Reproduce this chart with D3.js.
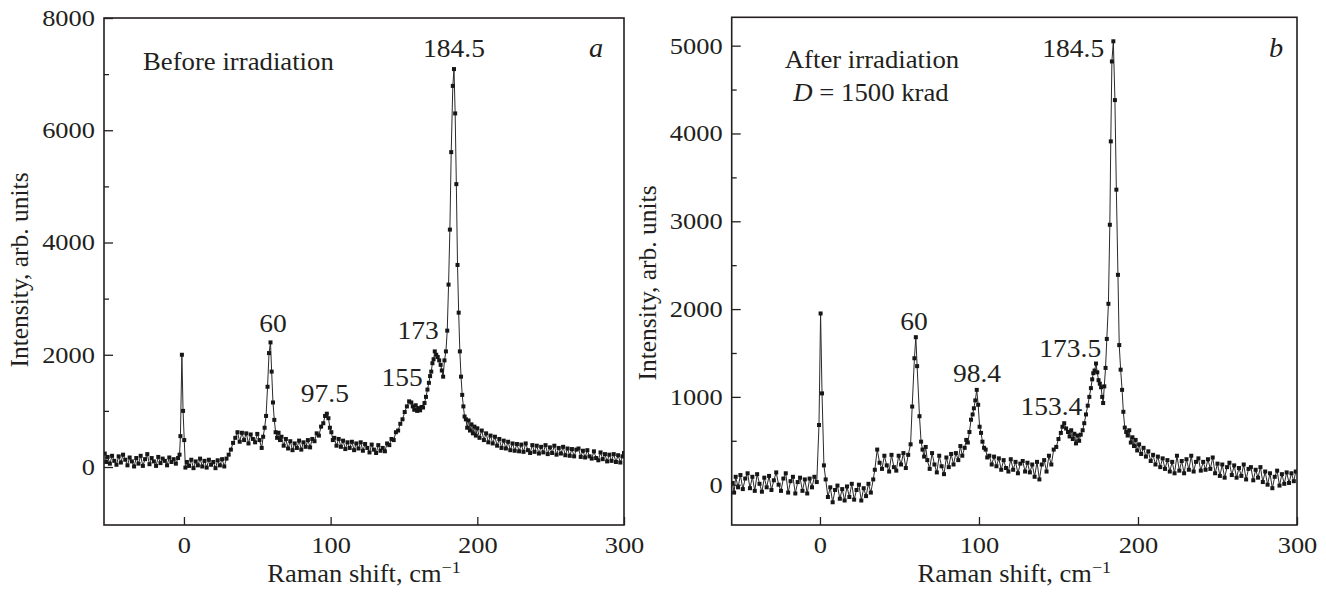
<!DOCTYPE html>
<html><head><meta charset="utf-8">
<script src="https://cdn.jsdelivr.net/npm/d3@7"></script>
<style>
html,body{margin:0;padding:0;background:#fff;}
svg{display:block;}
text{font-family:"Liberation Serif","Times New Roman",serif;fill:#231f20;}
</style></head><body>
<svg id="chart" width="1326" height="597"></svg>
<script>
// ---------- DATA ----------
// Panel a: before irradiation  [Raman shift cm^-1, intensity]
const spectrumBefore = [
[-54,240],[-53,90],[-52,180],[-50.5,60],[-49,200],[-47.5,110],[-46,40],[-44.5,190],[-43,80],[-41.5,220],
[-40,130],[-38.5,30],[-37,170],[-35.5,100],[-34,10],[-32.5,160],[-31,60],[-29.5,200],[-28,20],[-26.5,140],
[-25,230],[-23.5,50],[-22,160],[-20.5,100],[-19,20],[-17.5,180],[-16,70],[-14.5,150],[-13,110],[-11.5,30],
[-10,170],[-8.5,90],[-7,140],[-5.5,60],[-4,160],[-3,220],[-2.4,550],[-1.4,2000],[-0.6,1000],[0.2,480],
[1,-10],[2,90],[3.5,20],[5,130],[6.5,-20],[8,100],[9.5,30],[11,150],[12.5,10],[14,110],
[15.5,-10],[17,130],[18.5,40],[20,90],[21.5,-20],[23,120],[24.5,30],[26,140],[27.5,10],[29,150],
[30.5,220],[32,310],[33.5,430],[35,520],[36.5,620],[38,450],[39.5,610],[41,480],[42.5,600],[44,420],
[45.5,580],[47,500],[48.5,440],[50,590],[51.5,480],[53,340],[54,540],[55,700],[56,910],[57,1430],
[58,2030],[59,2220],[59.8,1700],[60.7,1150],[61.6,840],[62.5,620],[63.5,520],[64.5,610],[65.5,480],[66.5,540],
[68,380],[69.5,500],[71,330],[72.5,460],[74,300],[75.5,420],[77,340],[78.5,470],[80,310],[81.5,440],
[83,360],[84.5,480],[86,350],[87.5,500],[89,460],[90.5,600],[92,560],[93.5,720],[95,780],[96.2,910],
[97.4,950],[98.5,870],[99.5,700],[100.5,620],[101.5,480],[102.5,520],[104,380],[105.5,500],[107,360],[108.5,470],
[110,320],[111.5,440],[113,340],[114.5,450],[116,300],[117.5,420],[119,330],[120.5,440],[122,290],[123.5,410],
[125,340],[126.5,260],[128,400],[129.5,310],[131,250],[132.5,390],[134,290],[135.5,340],[137,280],[138.5,420],
[140,390],[141.5,500],[143,480],[144.5,620],[146,650],[147.5,770],[149,850],[150.5,980],[152,1080],[153.5,1170],
[155,1150],[156,1080],[157,1020],[158,1100],[159,1000],[160,1050],[161,1010],[162,1070],[163,1060],[164,1140],
[165,1250],[166,1380],[167,1500],[167.8,1620],[168.6,1700],[169.4,1850],[170.2,1920],[171,2060],[172,2000],[173,1960],
[174,1900],[175,1820],[175.8,1720],[176.7,1610],[177.6,1900],[178.6,2060],[179.5,2430],[180.4,3250],[181.3,4230],[182.2,5610],
[183.3,6790],[184.1,7090],[184.9,6300],[185.7,5040],[186.5,3600],[187.3,2750],[188.1,2060],[188.9,1610],[189.7,1285],[190.5,1080],
[191.3,900],[192.2,850],[193.1,700],[194,830],[195,650],[196,760],[197,600],[198,720],[199,560],[200,690],
[201.5,520],[203,650],[204.5,480],[206,600],[207.5,440],[209,560],[210.5,420],[212,540],[213.5,380],[215,500],
[216.5,340],[218,470],[219.5,330],[221,450],[222.5,300],[224,420],[225.5,290],[227,410],[228.5,280],[230,400],
[231.5,270],[233,420],[234.5,300],[236,250],[237.5,390],[239,270],[240.5,380],[242,240],[243.5,360],[245,260],
[246.5,390],[248,230],[249.5,350],[251,250],[252.5,380],[254,220],[255.5,340],[257,240],[258.5,360],[260,210],
[261.5,330],[263,200],[264.5,320],[266,190],[267.5,310],[269,330],[270.5,180],[272,290],[273.5,170],[275,300],
[276.5,190],[278,150],[279.5,280],[281,160],[282.5,120],[284,260],[285.5,140],[287,230],[288.5,100],[290,220],
[291.5,110],[293,230],[294.5,90],[296,210],[297.5,80],[299,190],[300,250]
];
// Panel b: after irradiation, D = 1500 krad
const spectrumAfter = [
[-55,20],[-54,-90],[-53,90],[-51.5,-30],[-50,110],[-48.5,-50],[-47,70],[-45.5,130],[-44,-40],[-42.5,90],
[-41,-70],[-39.5,120],[-38,10],[-36.5,-80],[-35,80],[-33.5,-30],[-32,100],[-30.5,-60],[-29,50],[-27.5,140],
[-26,0],[-24.5,-70],[-23,70],[-21.5,130],[-20,-90],[-18.5,40],[-17,90],[-15.5,-100],[-14,30],[-12.5,80],
[-11,-70],[-9.5,60],[-8,-100],[-6.5,70],[-5,-30],[-3.5,90],[-2,30],[-0.6,680],[0.4,1950],[1.3,1040],
[2.5,220],[3.6,60],[5,-140],[6.5,-30],[8,-200],[9.5,-60],[11,-10],[12.5,-160],[14,-50],[15.5,-180],
[17,-20],[18.5,-140],[20,10],[21.5,-170],[23,-60],[24.5,0],[26,-180],[27.5,-40],[29,-130],[30.5,10],
[32,-90],[33.5,60],[34.5,170],[36,400],[37.5,250],[39,180],[40.5,330],[42,220],[43.5,150],[45,340],
[46.5,200],[48,160],[49.5,330],[51,230],[52.5,360],[54,190],[55.5,340],[57,460],[58,890],[59.4,1440],
[60.3,1680],[61.1,1350],[62.6,780],[63.6,490],[64.5,400],[65.5,320],[66.5,430],[67.5,280],[69,180],[70.5,360],
[72,230],[73.5,140],[75,330],[76.5,210],[78,120],[79.5,310],[81,200],[82.5,350],[84,230],[85.5,360],
[87,280],[88.3,440],[89.5,330],[91,420],[92,510],[93,480],[94,600],[95,740],[96,800],[96.8,870],
[97.7,960],[98.6,1080],[99.5,910],[100.4,660],[101.3,590],[102.2,490],[103.2,420],[104.2,400],[105.2,310],[106.5,330],
[108,230],[109.5,320],[111,210],[112.5,300],[114,170],[115.5,280],[117,190],[118.5,150],[120,290],[121.5,170],
[123,260],[124.5,130],[126,240],[127.5,270],[129,150],[130.5,250],[132,140],[133.5,230],[135,90],[136.5,260],
[138,60],[139.5,230],[141,280],[142.5,150],[144,330],[145.5,230],[147,400],[148.6,430],[150,520],[151.5,590],
[152.5,660],[153.6,700],[154.8,640],[156,600],[157,550],[158,620],[159,520],[160,580],[161,470],[162,560],
[163,500],[164,570],[165.2,620],[166.2,700],[167.3,800],[168.4,900],[169.4,1000],[170.4,1100],[171.2,1200],[171.9,1270],
[172.7,1300],[173.6,1380],[174.4,1280],[175.2,1190],[176,1150],[176.8,1110],[177.5,1000],[178.1,930],[178.8,1120],[179.6,1330],
[180.4,1660],[181.4,2060],[182.3,2960],[182.9,3910],[183.6,4820],[184.5,5050],[185.5,4380],[186.4,3360],[187.4,2390],[188.2,1590],
[189.1,1310],[190,1080],[190.8,830],[191.7,650],[192.6,600],[193.5,560],[194.5,620],[195.5,480],[196.5,540],[197.5,440],
[198.5,510],[199.5,390],[200.7,460],[202,350],[203.5,420],[205,320],[206.5,380],[208,270],[209.5,340],[211,230],
[212.5,320],[214,200],[215.5,300],[217,180],[218.5,280],[220,150],[221.5,260],[223,130],[224.5,330],[226,160],
[227.5,270],[229,130],[230.5,290],[232,170],[233.5,330],[235,150],[236.5,260],[238,300],[239.5,160],[241,260],
[242.5,170],[244,290],[245.5,180],[247,310],[248.5,130],[250,240],[251.5,100],[253,230],[254.5,80],[256,200],
[257.5,250],[259,110],[260.5,220],[262,80],[263.5,190],[265,100],[266.5,230],[268,60],[269.5,180],[271,200],
[272.5,50],[274,170],[275.5,80],[277,200],[278.5,30],[280,150],[281.5,0],[283,130],[284.5,-40],[286,90],
[287.5,160],[289,-10],[290.5,120],[292,10],[293.5,140],[295,20],[296.5,130],[298,40],[299.2,150]
];
const xTicks = [0, 100, 200, 300];
const yTicksBefore = [0, 2000, 4000, 6000, 8000];
const yMinorBefore = [1000, 3000, 5000, 7000];
const yTicksAfter = [0, 1000, 2000, 3000, 4000, 5000];
const yMinorAfter = [500, 1500, 2500, 3500, 4500];
const peakLabelsBefore = ["184.5", "60", "97.5", "155", "173"];
const peakLabelsAfter = ["184.5", "60", "98.4", "153.4", "173.5"];
const xTitle = "Raman shift, cm";
const xTitleSup = "\u22121";
const yTitle = "Intensity, arb. units";

// ---------- LAYOUT ----------
const svg = d3.select("#chart");
const INK = "#231f20";

function stext(g, x, y, str, size, sx, anchor, italic) {
  return g.append("text")
    .attr("transform", `translate(${x},${y}) scale(${sx},1)`)
    .attr("text-anchor", anchor || "middle")
    .style("font-size", size + "px")
    .style("font-style", italic ? "italic" : null)
    .text(str);
}

function drawPanel(cfg) {
  const g = svg.append("g");
  const x = d3.scaleLinear().domain(cfg.xDomain).range([cfg.left, cfg.right]);
  const y = d3.scaleLinear().domain(cfg.yDomain).range([cfg.bottom, cfg.top]);

  const clipId = "clip-" + cfg.id;
  svg.append("clipPath").attr("id", clipId).append("rect")
    .attr("x", cfg.left).attr("y", cfg.top)
    .attr("width", cfg.right - cfg.left).attr("height", cfg.bottom - cfg.top);

  const plot = g.append("g").attr("clip-path", `url(#${clipId})`);
  const line = d3.line().x(d => x(d[0])).y(d => y(d[1]));
  plot.append("path").datum(cfg.data)
    .attr("fill", "none").attr("stroke", "#2a2a2a").attr("stroke-width", 1)
    .attr("d", line);
  const ms = 4;
  plot.selectAll("rect.m").data(cfg.data).enter().append("rect")
    .attr("class", "m")
    .attr("x", d => x(d[0]) - ms / 2).attr("y", d => y(d[1]) - ms / 2)
    .attr("width", ms).attr("height", ms).attr("fill", "#161616");

  // axes (ticks inward)
  const tickSX = 1.15, tickFS = 23;
  const yAx = g.append("g").attr("transform", `translate(${cfg.left},0)`)
    .call(d3.axisLeft(y).tickValues(cfg.yTicks).tickSize(-9).tickPadding(9).tickFormat(d3.format("d")));
  const yMin = g.append("g").attr("transform", `translate(${cfg.left},0)`)
    .call(d3.axisLeft(y).tickValues(cfg.yMinor).tickSize(-5).tickFormat(""));
  const xAx = g.append("g").attr("transform", `translate(0,${cfg.bottom})`)
    .call(d3.axisBottom(x).tickValues(xTicks).tickSize(-8).tickFormat(d3.format("d")));
  [yAx, yMin, xAx].forEach(a => {
    a.attr("font-family", null);
    a.select(".domain").remove();
    a.selectAll(".tick line").attr("stroke", INK).attr("stroke-width", 1.3);
    a.selectAll("text").style("font-family", '"Liberation Serif", serif')
      .style("font-size", tickFS + "px").attr("fill", INK);
  });
  yAx.selectAll(".tick text").attr("transform", `translate(-9,0) scale(${tickSX},1)`).attr("x", 0);
  xAx.selectAll(".tick text").attr("y", 28).attr("dy", null)
    .attr("transform", `scale(${tickSX},1)`);

  // frame
  g.append("rect").attr("x", cfg.left).attr("y", cfg.top)
    .attr("width", cfg.right - cfg.left).attr("height", cfg.bottom - cfg.top)
    .attr("fill", "none").attr("stroke", INK).attr("stroke-width", 1.6);

  // axis titles
  const cx = (cfg.left + cfg.right) / 2;
  const tx = g.append("text")
    .attr("transform", `translate(${cx + cfg.xTitleDx},582) scale(1.06,1)`)
    .attr("text-anchor", "middle").style("font-size", "25px");
  tx.append("tspan").text(xTitle);
  tx.append("tspan").attr("dy", -9).style("font-size", "17px").text(xTitleSup);

  g.append("text")
    .attr("transform", `translate(${cfg.yTitleX},${cfg.yTitleY}) rotate(-90)`)
    .attr("text-anchor", "middle").style("font-size", "25.5px").text(yTitle);

  // annotations
  cfg.peaks.forEach((p, i) => {
    const a = cfg.peakPos[i];
    stext(g, x(a[0]), y(a[1]), p, 25, 1.1, "middle", false);
  });
  stext(g, cfg.letterX, 57, cfg.letter, 27, 1.05, "middle", true);
  return { g, x, y };
}

const pa = drawPanel({
  id: "a", data: spectrumBefore,
  left: 104, right: 624, top: 18, bottom: 525,
  xDomain: [-54.5, 300], yDomain: [-1033, 8000],
  yTicks: yTicksBefore, yMinor: yMinorBefore,
  peaks: peakLabelsBefore,
  peakPos: [[184.1, 7310], [60.7, 2410], [96.1, 1163], [148.7, 1443], [159.6, 2280]],
  letter: "a", letterX: 596,
  xTitleDx: 0, yTitleX: 28, yTitleY: 270
});
stext(pa.g, 143, 70, "Before irradiation", 25, 1.07, "start", false);

const pb = drawPanel({
  id: "b", data: spectrumAfter,
  left: 731.7, right: 1297, top: 17.3, bottom: 525,
  xDomain: [-55.5, 300], yDomain: [-459, 5323],
  yTicks: yTicksAfter, yMinor: yMinorAfter,
  peaks: peakLabelsAfter,
  peakPos: [[159.3, 4875], [59.1, 1762], [98.8, 1173], [145.5, 794], [157.4, 1458]],
  letter: "b", letterX: 1276,
  xTitleDx: 0, yTitleX: 656, yTitleY: 283
});
stext(pb.g, 872, 68, "After irradiation", 25, 1.07, "middle", false);
const dl = pb.g.append("text")
  .attr("transform", `translate(871,100.5) scale(1.07,1)`)
  .attr("text-anchor", "middle").style("font-size", "25px");
dl.append("tspan").style("font-style", "italic").text("D");
dl.append("tspan").text(" = 1500 krad");
</script>
</body></html>
